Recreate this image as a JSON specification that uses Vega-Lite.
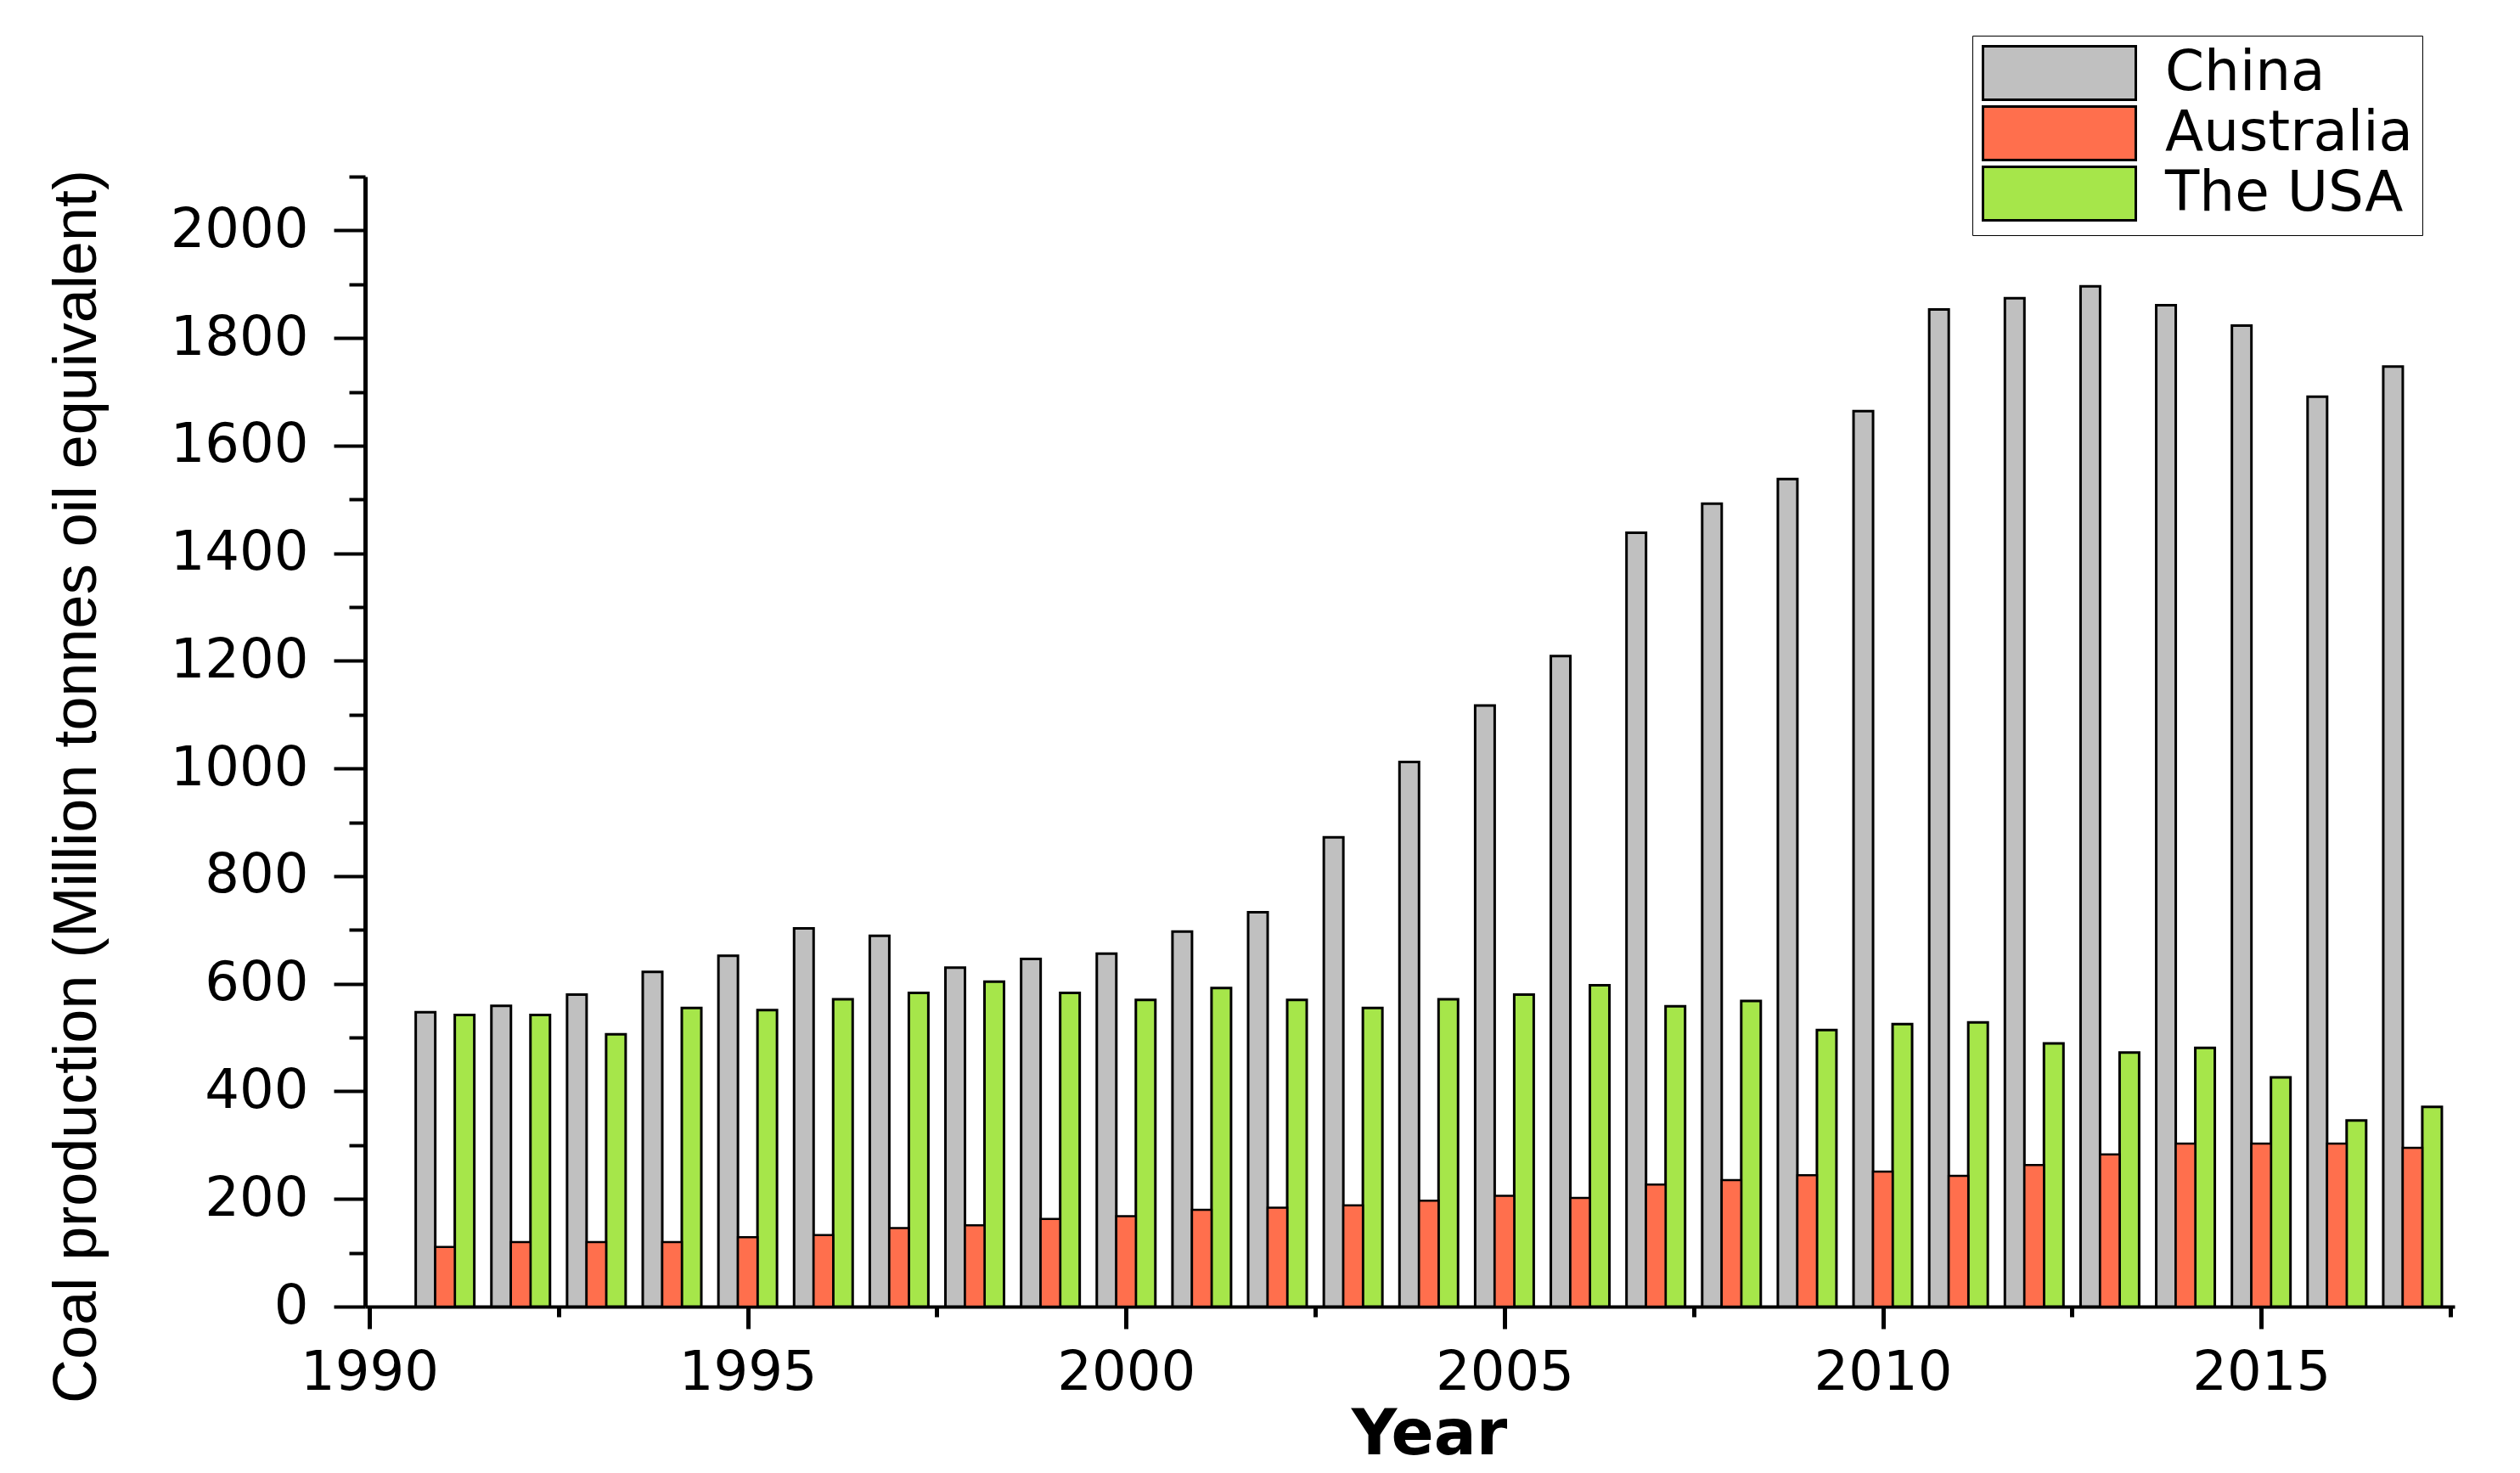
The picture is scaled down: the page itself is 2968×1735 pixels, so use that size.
{
  "$schema": "https://vega.github.io/schema/vega-lite/v6.json",
  "width": 2461,
  "height": 1331,
  "autosize": {"type": "none"},
  "padding": {"left": 430, "top": 208, "right": 77, "bottom": 196},
  "background": "white",
  "data": {
    "values": [
      {"year": 1991, "country": "China", "value": 547},
      {"year": 1992, "country": "China", "value": 559},
      {"year": 1993, "country": "China", "value": 580},
      {"year": 1994, "country": "China", "value": 622},
      {"year": 1995, "country": "China", "value": 652},
      {"year": 1996, "country": "China", "value": 703},
      {"year": 1997, "country": "China", "value": 689},
      {"year": 1998, "country": "China", "value": 630},
      {"year": 1999, "country": "China", "value": 646},
      {"year": 2000, "country": "China", "value": 656},
      {"year": 2001, "country": "China", "value": 697},
      {"year": 2002, "country": "China", "value": 733},
      {"year": 2003, "country": "China", "value": 872},
      {"year": 2004, "country": "China", "value": 1012},
      {"year": 2005, "country": "China", "value": 1117},
      {"year": 2006, "country": "China", "value": 1209},
      {"year": 2007, "country": "China", "value": 1438},
      {"year": 2008, "country": "China", "value": 1492},
      {"year": 2009, "country": "China", "value": 1538},
      {"year": 2010, "country": "China", "value": 1664},
      {"year": 2011, "country": "China", "value": 1853},
      {"year": 2012, "country": "China", "value": 1874},
      {"year": 2013, "country": "China", "value": 1896},
      {"year": 2014, "country": "China", "value": 1861},
      {"year": 2015, "country": "China", "value": 1823},
      {"year": 2016, "country": "China", "value": 1691},
      {"year": 2017, "country": "China", "value": 1747},
      {"year": 1991, "country": "Australia", "value": 111},
      {"year": 1992, "country": "Australia", "value": 120},
      {"year": 1993, "country": "Australia", "value": 120},
      {"year": 1994, "country": "Australia", "value": 120},
      {"year": 1995, "country": "Australia", "value": 129},
      {"year": 1996, "country": "Australia", "value": 133},
      {"year": 1997, "country": "Australia", "value": 146},
      {"year": 1998, "country": "Australia", "value": 151},
      {"year": 1999, "country": "Australia", "value": 163},
      {"year": 2000, "country": "Australia", "value": 168},
      {"year": 2001, "country": "Australia", "value": 180},
      {"year": 2002, "country": "Australia", "value": 184},
      {"year": 2003, "country": "Australia", "value": 188},
      {"year": 2004, "country": "Australia", "value": 197},
      {"year": 2005, "country": "Australia", "value": 206},
      {"year": 2006, "country": "Australia", "value": 202},
      {"year": 2007, "country": "Australia", "value": 227},
      {"year": 2008, "country": "Australia", "value": 235},
      {"year": 2009, "country": "Australia", "value": 244},
      {"year": 2010, "country": "Australia", "value": 251},
      {"year": 2011, "country": "Australia", "value": 243},
      {"year": 2012, "country": "Australia", "value": 263},
      {"year": 2013, "country": "Australia", "value": 283},
      {"year": 2014, "country": "Australia", "value": 303},
      {"year": 2015, "country": "Australia", "value": 303},
      {"year": 2016, "country": "Australia", "value": 303},
      {"year": 2017, "country": "Australia", "value": 295},
      {"year": 1991, "country": "The USA", "value": 542},
      {"year": 1992, "country": "The USA", "value": 542},
      {"year": 1993, "country": "The USA", "value": 506},
      {"year": 1994, "country": "The USA", "value": 555},
      {"year": 1995, "country": "The USA", "value": 551},
      {"year": 1996, "country": "The USA", "value": 571},
      {"year": 1997, "country": "The USA", "value": 583},
      {"year": 1998, "country": "The USA", "value": 604},
      {"year": 1999, "country": "The USA", "value": 583},
      {"year": 2000, "country": "The USA", "value": 570},
      {"year": 2001, "country": "The USA", "value": 592},
      {"year": 2002, "country": "The USA", "value": 570},
      {"year": 2003, "country": "The USA", "value": 555},
      {"year": 2004, "country": "The USA", "value": 571},
      {"year": 2005, "country": "The USA", "value": 580},
      {"year": 2006, "country": "The USA", "value": 597},
      {"year": 2007, "country": "The USA", "value": 558},
      {"year": 2008, "country": "The USA", "value": 568},
      {"year": 2009, "country": "The USA", "value": 514},
      {"year": 2010, "country": "The USA", "value": 525},
      {"year": 2011, "country": "The USA", "value": 528},
      {"year": 2012, "country": "The USA", "value": 489},
      {"year": 2013, "country": "The USA", "value": 472},
      {"year": 2014, "country": "The USA", "value": 481},
      {"year": 2015, "country": "The USA", "value": 426},
      {"year": 2016, "country": "The USA", "value": 346},
      {"year": 2017, "country": "The USA", "value": 371}
    ]
  },
  "encoding": {
    "x": {
      "field": "year",
      "type": "quantitative",
      "scale": {"domain": [1990, 2017.5], "nice": false, "zero": false},
      "axis": {
        "title": "Year",
        "values": [1990, 1992.5, 1995, 1997.5, 2000, 2002.5, 2005, 2007.5, 2010, 2012.5, 2015, 2017.5],
        "format": "d",
        "labelExpr": "datum.value % 5 === 0 ? datum.label : ''",
        "labelFont": "DejaVu Sans",
        "labelFontSize": 64,
        "labelColor": "black",
        "labelPadding": 20,
        "labelFlush": false,
        "labelOverlap": false,
        "tickSize": {"condition": {"test": "datum.value % 5 === 0", "value": 26}, "value": 12},
        "tickWidth": 5,
        "tickColor": "black",
        "domainColor": "black",
        "domainWidth": 4,
        "titleFont": "DejaVu Sans",
        "titleFontSize": 74,
        "titleFontWeight": "bold",
        "titleColor": "black",
        "titleX": 1253,
        "titleY": 115,
        "titleBaseline": "top"
      }
    },
    "y": {
      "field": "value",
      "type": "quantitative",
      "scale": {"domain": [0, 2100], "nice": false},
      "axis": {
        "title": "Coal production (Million tonnes oil equivalent)",
        "values": [0, 100, 200, 300, 400, 500, 600, 700, 800, 900, 1000, 1100, 1200, 1300, 1400, 1500, 1600, 1700, 1800, 1900, 2000, 2100],
        "labelExpr": "datum.value % 200 === 0 ? datum.label : ''",
        "format": "d",
        "labelFont": "DejaVu Sans",
        "labelFontSize": 64,
        "labelColor": "black",
        "labelPadding": 30,
        "labelFlush": false,
        "labelOverlap": false,
        "tickSize": {"condition": {"test": "datum.value % 200 === 0", "value": 37}, "value": 19},
        "tickWidth": 4,
        "tickColor": "black",
        "domainColor": "black",
        "domainWidth": 5,
        "titleFont": "Liberation Sans",
        "titleFontSize": 72,
        "titleFontWeight": "normal",
        "titleColor": "black",
        "titleX": -318,
        "titleY": 718,
        "titleBaseline": "alphabetic"
      }
    },
    "color": {
      "field": "country",
      "type": "nominal",
      "scale": {"domain": ["China", "Australia", "The USA"], "range": ["#C0C0C0", "#FF6F4D", "#A6E64A"]},
      "legend": {
        "title": null,
        "orient": "none",
        "legendX": 1893,
        "legendY": -166,
        "direction": "vertical",
        "strokeColor": "black",
        "fillColor": "white",
        "padding": 11,
        "symbolType": "M-1,-1H4.714V1H-1Z",
        "symbolSize": 3969,
        "symbolStrokeColor": "black",
        "symbolStrokeWidth": 3,
        "symbolOpacity": 1,
        "labelFont": "DejaVu Sans",
        "labelFontSize": 66,
        "labelColor": "black",
        "labelOffset": 150,
        "rowPadding": -5,
        "labelLimit": 1000
      }
    }
  },
  "layer": [
    {
      "transform": [{"filter": "datum.country === 'China'"}],
      "mark": {"type": "bar", "width": 23, "xOffset": -23, "stroke": "black", "strokeWidth": 3, "opacity": 1}
    },
    {
      "transform": [{"filter": "datum.country === 'The USA'"}],
      "mark": {"type": "bar", "width": 23, "xOffset": 23, "stroke": "black", "strokeWidth": 3, "opacity": 1}
    },
    {
      "transform": [{"filter": "datum.country === 'Australia'"}],
      "mark": {"type": "bar", "width": 23, "xOffset": 0, "stroke": "black", "strokeWidth": 2.5, "opacity": 1}
    }
  ],
  "config": {
    "view": {"stroke": null},
    "axis": {"grid": false}
  }
}
